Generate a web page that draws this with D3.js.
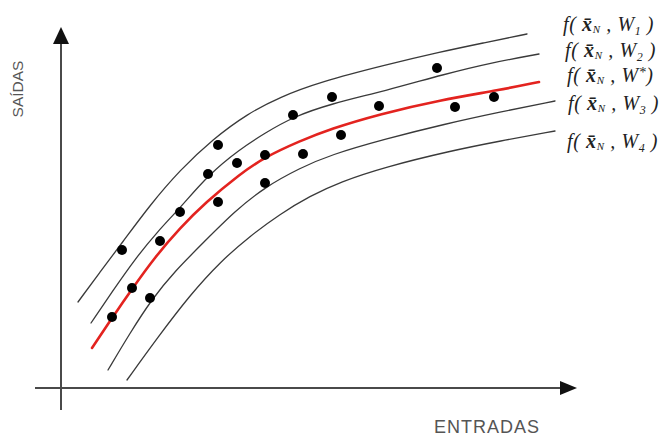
<!DOCTYPE html>
<html>
<head>
<meta charset="utf-8">
<script src="https://cdn.jsdelivr.net/npm/d3@7"></script>
<style>
  html, body { margin: 0; padding: 0; background: #fff; }
  svg { display: block; }
</style>
</head>
<body>
<svg id="chart" width="660" height="437"></svg>
<script>
// ---- data (chart units: x 0..100, y 0..90) ----
const observedX = [10.2, 12.2, 14.2, 17.8, 19.8, 23.8, 29.4, 31.4, 31.4, 35.2, 40.8, 40.8, 46.4, 48.4, 54.2, 56, 63.6, 75.2, 78.8, 86.6];
const observedY = [17.75, 34.5, 25, 22.5, 36.75, 44, 53.5, 60.75, 46.5, 56.25, 58.25, 51.25, 68.25, 58.5, 72.75, 63.25, 70.5, 80, 70.25, 72.75];

const w1X = [3.4, 7.8, 12.2, 17.8, 23.8, 30.4, 37.2, 43.8, 51.8, 64.8, 75.8, 84.4, 93.2];
const w1Y = [21.5, 29, 36.25, 45.75, 54.5, 62.25, 68.5, 72.75, 76.5, 80.75, 84, 86.25, 88.5];

const w2X = [6, 10.2, 14.8, 19.4, 23.8, 29.4, 35.8, 40.8, 46.4, 53.8, 64.8, 76.8, 85.8, 95.6];
const w2Y = [16.25, 24, 32.25, 39.25, 45, 53.25, 59.75, 63.75, 67.75, 71, 74.25, 78.5, 81.25, 83.5];

const wStarX = [6.2, 10.2, 14.2, 18.8, 23.8, 28.8, 35.8, 40.8, 47.8, 53.8, 63.8, 75.8, 87.8, 95.6];
const wStarY = [10, 17.5, 24.75, 32.75, 40, 46.25, 53.5, 57.75, 61.75, 64.75, 68.5, 72, 74.5, 76.5];

const w3X = [9.4, 13.8, 18.2, 22.8, 28.4, 34.8, 40.8, 47.8, 53.8, 64.8, 76.8, 87.8, 98.8];
const w3Y = [4.5, 13.75, 22.25, 29.25, 36.25, 44.25, 50.25, 55, 58.25, 62.25, 66, 69, 71.75];

const w4X = [13.2, 19.4, 25.8, 31.8, 37.8, 43.8, 49.8, 55.8, 64.8, 77.8, 87.8, 98.8];
const w4Y = [2, 12.75, 23.25, 31.5, 38, 43.5, 48, 51.5, 55.25, 59.25, 61.75, 64.25];

const curveSubs = ["1", "2", "*", "3", "4"];
const xTitle = "ENTRADAS";
const yTitle = "SAÍDAS";

// ---- drawing ----
const svg = d3.select("#chart");
const x = d3.scaleLinear().domain([0, 100]).range([61, 561]);
const y = d3.scaleLinear().domain([0, 90]).range([388, 28]);

const zip = (xs, ys) => xs.map((v, i) => [v, ys[i]]);
const line = d3.line()
  .x(d => x(d[0]))
  .y(d => y(d[1]))
  .curve(d3.curveBasis);

const curves = [
  { pts: zip(w1X, w1Y), red: false },
  { pts: zip(w2X, w2Y), red: false },
  { pts: zip(w3X, w3Y), red: false },
  { pts: zip(w4X, w4Y), red: false },
  { pts: zip(wStarX, wStarY), red: true }
];

// axes (arrows)
const axisColor = "#4a4a4a";
svg.append("line")
  .attr("x1", x(0)).attr("x2", x(0))
  .attr("y1", y(0) + 22).attr("y2", y(0) - 345)
  .attr("stroke", axisColor).attr("stroke-width", 2);
svg.append("path")
  .attr("d", `M${x(0)},${y(0) - 361} L${x(0) - 8},${y(0) - 344} L${x(0) + 8},${y(0) - 344} Z`)
  .attr("fill", "#111");
svg.append("line")
  .attr("x1", x(0) - 26).attr("x2", x(0) + 500)
  .attr("y1", y(0)).attr("y2", y(0))
  .attr("stroke", axisColor).attr("stroke-width", 2);
svg.append("path")
  .attr("d", `M${x(0) + 516},${y(0)} L${x(0) + 499},${y(0) - 7} L${x(0) + 499},${y(0) + 7} Z`)
  .attr("fill", "#111");

// curves
svg.append("g").selectAll("path")
  .data(curves)
  .join("path")
  .attr("d", d => line(d.pts))
  .attr("fill", "none")
  .attr("stroke", d => d.red ? "#e3231f" : "#3a3a3a")
  .attr("stroke-width", d => d.red ? 2.6 : 1.3)
  .attr("stroke-linecap", "round");

// observed points
svg.append("g").selectAll("circle")
  .data(zip(observedX, observedY))
  .join("circle")
  .attr("cx", d => x(d[0]))
  .attr("cy", d => y(d[1]))
  .attr("r", 5)
  .attr("fill", "#000");

// curve labels
const labelPos = [[563, 31], [565, 57], [567, 82], [568, 110], [567, 148]];
const labels = svg.append("g")
  .attr("font-family", "'Liberation Serif', 'Times New Roman', serif")
  .attr("font-style", "italic")
  .attr("font-size", 20)
  .attr("letter-spacing", 0.6)
  .attr("fill", "#222");
curveSubs.forEach((s, i) => {
  const t = labels.append("text")
    .attr("x", labelPos[i][0])
    .attr("y", labelPos[i][1]);
  t.append("tspan").text("f( ");
  t.append("tspan").attr("font-weight", "bold").text("x\u0304");
  t.append("tspan").attr("font-size", 11).attr("dy", 2).text("N");
  t.append("tspan").attr("dy", -2).text(" , W");
  if (s === "*") {
    t.append("tspan").attr("dy", -5).attr("font-size", 14).text("*");
    t.append("tspan").attr("dy", 5).text(")");
  } else {
    t.append("tspan").attr("dy", 4).attr("font-size", 12).text(s);
    t.append("tspan").attr("dy", -4).text(" )");
  }
});

// axis titles
svg.append("text")
  .attr("x", 487).attr("y", 433)
  .attr("text-anchor", "middle")
  .attr("font-family", "'Liberation Sans', Arial, sans-serif")
  .attr("font-size", 18)
  .attr("letter-spacing", 1)
  .attr("fill", "#555")
  .text(xTitle);

svg.append("text")
  .attr("transform", "translate(23,89) rotate(-90)")
  .attr("text-anchor", "middle")
  .attr("font-family", "'Liberation Sans', Arial, sans-serif")
  .attr("font-size", 15.5)
  .attr("fill", "#555")
  .text(yTitle);
</script>
</body>
</html>
